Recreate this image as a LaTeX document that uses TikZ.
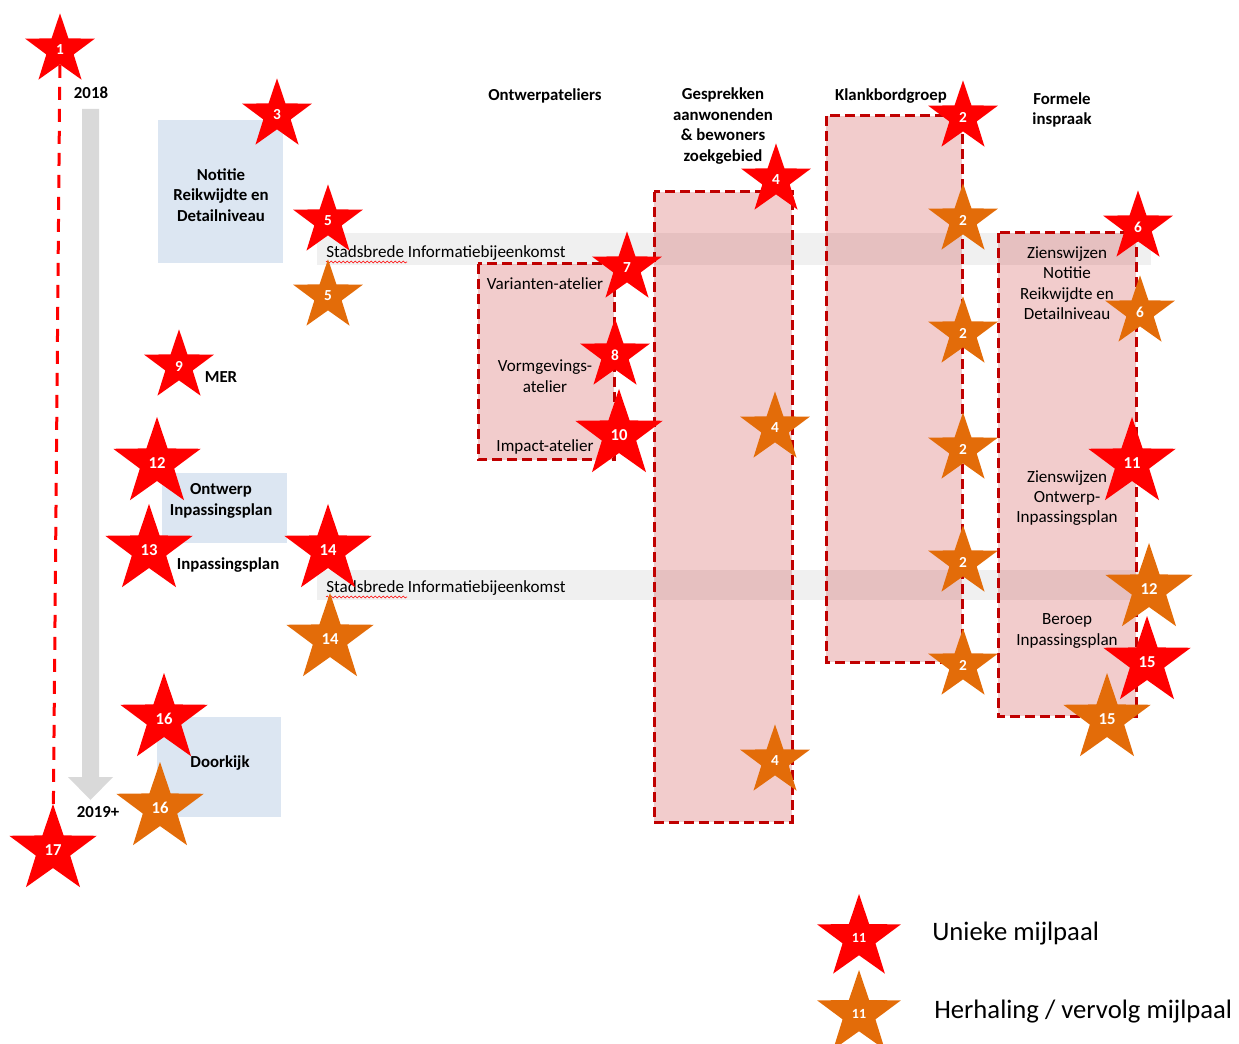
\documentclass[tikz,border=0pt]{standalone}
\usepackage{fontspec}
\setmainfont{Carlito}
\usetikzlibrary{shapes.geometric,decorations.pathmorphing}
\definecolor{mijlrood}{RGB}{255,0,0}
\definecolor{mijloranje}{RGB}{227,108,9}
\definecolor{donkerrood}{RGB}{192,0,0}
\definecolor{lichtblauw}{RGB}{220,230,242}
\definecolor{bandgrijs}{RGB}{240,240,240}
\definecolor{pijlgrijs}{RGB}{217,217,217}
\begin{document}
\begin{tikzpicture}[x=0.75pt,y=-0.75pt,
  ster/.style={star,star points=5,star point ratio=2.55,inner sep=0pt,text=white,font=\bfseries\fontsize{11.5}{11.5}\selectfont},
  klein/.style={minimum size=55pt},
  groot/.style={minimum size=69pt,font=\bfseries\fontsize{12.5}{12.5}\selectfont},
  kader/.style={draw=donkerrood,line width=2.25pt,dash pattern=on 7.5pt off 3.75pt,fill=donkerrood,fill opacity=0.2},
  kop/.style={inner sep=0pt,align=center,font=\bfseries\fontsize{12.6}{15.3}\selectfont},
  tekst/.style={inner sep=0pt,align=center,font=\fontsize{12.8}{15.3}\selectfont}]
  \useasboundingbox (0,0) rectangle (1239,1044);
  % banden en kaders
  \fill[bandgrijs] (317,233) rectangle (1151,265);
  \fill[bandgrijs] (317,570) rectangle (1151,600);
  \draw[kader] (478,264) rectangle (614,460);
  \draw[kader] (654,192) rectangle (792,822);
  \draw[kader] (826,116) rectangle (962,662);
  \draw[kader] (998,233) rectangle (1136,716);
  \fill[lichtblauw] (158,120) rectangle (283,263);
  \fill[lichtblauw] (162,473) rectangle (287,543);
  \fill[lichtblauw] (157,717) rectangle (281,817);
  \fill[pijlgrijs] (82,109) -- (99,109) -- (99,777) -- (113,777) -- (90.5,800) -- (68,777) -- (82,777) -- cycle;
  % teksten
  \node[kop] (jaar1) at (91,93) {2018};
  \node[kop] (jaar2) at (98,812) {2019+};
  \node[kop] (ateliers) at (545,96) {Ontwerpateliers};
  \node[kop] (gesprekken) at (723,126) {Gesprekken\\aanwonenden\\\& bewoners\\zoekgebied};
  \node[kop] (klankbord) at (891,96) {Klankbordgroep};
  \node[kop] (formeel) at (1062,110) {Formele\\inspraak};
  \node[kop] (notitie) at (221,195) {Notitie\\Reikwijdte en\\Detailniveau};
  \node[kop] (mer) at (221,377) {MER};
  \node[kop] (ontwerp) at (221,501) {Ontwerp\\Inpassingsplan};
  \node[kop] (inpassing) at (228,565) {Inpassingsplan};
  \node[kop] (doorkijk) at (220,763) {Doorkijk};
  \node[tekst,anchor=west] (info1) at (326,253) {Stadsbrede Informatiebijeenkomst};
  \node[tekst,anchor=west] (info2) at (326,588) {Stadsbrede Informatiebijeenkomst};
  \draw[mijlrood,decorate,decoration={snake,amplitude=0.7pt,segment length=3pt}] (326,262) -- (407,262);
  \draw[mijlrood,decorate,decoration={snake,amplitude=0.7pt,segment length=3pt}] (326,597) -- (407,597);
  \node[tekst] (varianten) at (545,284) {Varianten-atelier};
  \node[tekst] (vormgeving) at (545,376) {Vormgevings-\\atelier};
  \node[tekst] (impact) at (545,447) {Impact-atelier};
  \node[tekst] (zienswijzen1) at (1067,283) {Zienswijzen\\Notitie\\Reikwijdte en\\Detailniveau};
  \node[tekst] (zienswijzen2) at (1067,498) {Zienswijzen\\Ontwerp-\\Inpassingsplan};
  \node[tekst] (beroep) at (1067,631) {Beroep\\Inpassingsplan};
  \node[inner sep=0pt,anchor=west,font=\fontsize{20}{24}\selectfont] (uniek) at (932,934) {Unieke mijlpaal};
  \node[inner sep=0pt,anchor=west,font=\fontsize{20}{24}\selectfont] (herhaling) at (934,1012) {Herhaling / vervolg mijlpaal};
  % mijlpalen: naam/x/y/kleur/maat/nummer
  \foreach \n/\x/\y/\k/\m/\t in {
    r1/60/50/mijlrood/klein/1, r3/277/115/mijlrood/klein/3, r5/328/221/mijlrood/klein/5,
    r9/179/366/mijlrood/klein/9, r7/627/268/mijlrood/klein/7, r8/615/355/mijlrood/klein/8,
    r4/776/180/mijlrood/klein/4, r2/963/117/mijlrood/klein/2, r6/1138/227/mijlrood/klein/6,
    r12/157/463/mijlrood/groot/12, r13/149/550/mijlrood/groot/13, r14/328/550/mijlrood/groot/14,
    r16/164/719/mijlrood/groot/16, r17/53/850/mijlrood/groot/17, r10/619/435/mijlrood/groot/10,
    r11/1132/463/mijlrood/groot/11, r15/1147/662/mijlrood/groot/15,
    o5/328/296/mijloranje/klein/5, o4a/775/428/mijloranje/klein/4, o4b/775/761/mijloranje/klein/4,
    o2a/963/220/mijloranje/klein/2, o2b/963/333/mijloranje/klein/2, o2c/963/449/mijloranje/klein/2,
    o2d/963/562/mijloranje/klein/2, o2e/963/665/mijloranje/klein/2, o6/1140/312/mijloranje/klein/6,
    o14/330/639/mijloranje/groot/14, o16/160/808/mijloranje/groot/16, o12/1149/589/mijloranje/groot/12,
    o15/1107/719/mijloranje/groot/15}
    \node[ster,fill=\k,\m] (\n) at (\x,\y) {\t};
  \node[ster,fill=mijlrood,minimum size=66pt,font=\bfseries\fontsize{10.5}{10.5}\selectfont] (legrood) at (859,938) {11};
  \node[ster,fill=mijloranje,minimum size=66pt,font=\bfseries\fontsize{10.5}{10.5}\selectfont] (legoranje) at (859,1014) {11};
  \draw[mijlrood,line width=2.25pt,dash pattern=on 9.75pt off 6.75pt] (r1) -- (r17);
\end{tikzpicture}
\end{document}
